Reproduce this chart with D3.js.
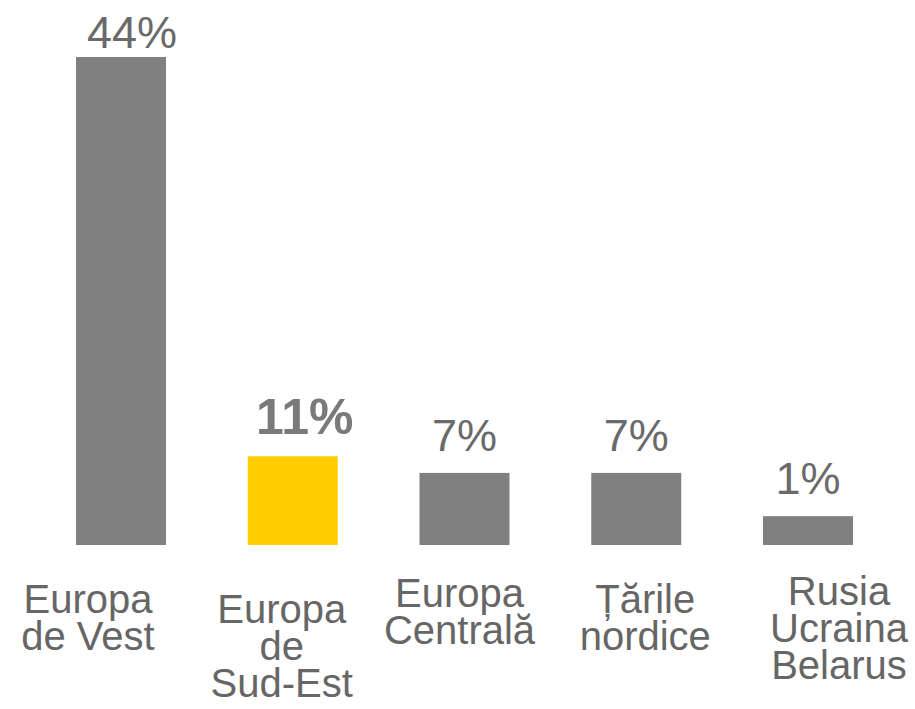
<!DOCTYPE html>
<meta charset="utf-8">
<style>
body { margin: 0; background: #fff; }
text { font-family: "Liberation Sans", Arial, sans-serif; }
</style>
<svg width="915" height="709"></svg>
<script src="https://d3js.org/d3.v7.min.js"></script>
<script>

// data
var categories = ["Europa de Vest", "Europa de Sud-Est", "Europa Centrală", "Țările nordice", "Rusia Ucraina Belarus"];
var values = [44, 8.0, 6.5, 6.5, 2.6];            // bar heights as drawn
var valueLabels = ["44%", "11%", "7%", "7%", "1%"];
var labelLines = [
  ["Europa", "de Vest"],
  ["Europa", "de", "Sud-Est"],
  ["Europa", "Centrală"],
  ["Țările", "nordice"],
  ["Rusia", "Ucraina", "Belarus"]
];
var highlight = "Europa de Sud-Est";

// layout
var labelShift = [-33, -11, -5, 9, 31],
    labelTop = [613, 623, 607, 613, 605],
    valueShift = [11, 12, 0, 0, 0];

var svg = d3.select("svg");

var x = d3.scaleBand()
    .domain(categories)
    .range([76, 853])
    .paddingInner(0.476)
    .paddingOuter(0);

var y = d3.scaleLinear()
    .domain([0, 44])
    .range([545, 57]);

var bars = svg.selectAll(".bar")
  .data(categories)
  .enter();

bars.append("rect")
    .attr("class", "bar")
    .attr("x", function(d) { return x(d); })
    .attr("y", function(d, i) { return y(values[i]); })
    .attr("width", x.bandwidth())
    .attr("height", function(d, i) { return y(0) - y(values[i]); })
    .attr("fill", function(d) { return d === highlight ? "#ffcd00" : "#808080"; });

bars.append("text")
    .attr("x", function(d, i) { return x(d) + x.bandwidth() / 2 + valueShift[i]; })
    .attr("y", function(d, i) { return Math.max(y(values[i]) - 22, 48); })
    .attr("text-anchor", "middle")
    .style("font-size", function(d) { return d === highlight ? "50px" : "45px"; })
    .style("font-weight", function(d) { return d === highlight ? "bold" : "normal"; })
    .attr("fill", function(d) { return d === highlight ? "#7a7a7a" : "#6a6a6a"; })
    .text(function(d, i) { return valueLabels[i]; });

var cat = svg.selectAll(".cat")
  .data(categories)
  .enter().append("text")
    .attr("class", "cat")
    .attr("text-anchor", "middle")
    .attr("y", function(d, i) { return labelTop[i]; })
    .attr("fill", "#666")
    .style("font-size", "40px");

cat.selectAll("tspan")
  .data(function(d, i) {
    return labelLines[i].map(function(t) { return {t: t, cx: x(d) + x.bandwidth() / 2 + labelShift[i]}; });
  })
  .enter().append("tspan")
    .attr("x", function(d) { return d.cx; })
    .attr("dy", function(d, j) { return j ? 37 : 0; })
    .text(function(d) { return d.t; });

</script>
